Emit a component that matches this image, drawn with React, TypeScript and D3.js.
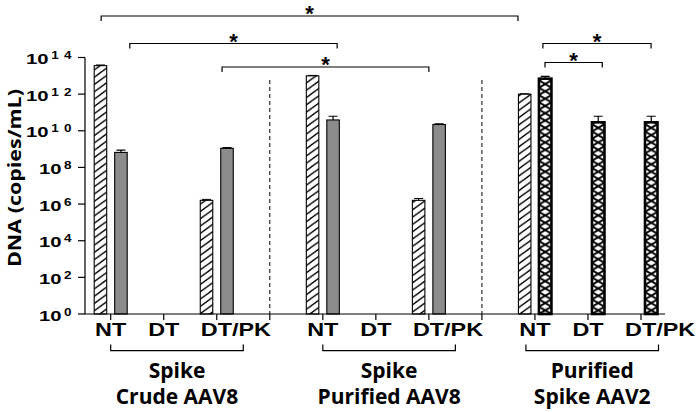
import React, { useEffect, useRef } from 'react';
import * as d3 from 'd3';

// groups of the experiment, each with the same three treatments
const groupNames = [
  ['Spike', 'Crude AAV8'],
  ['Spike', 'Purified AAV8'],
  ['Purified', 'Spike AAV2'],
];
const treatments = ['NT', 'DT', 'DT/PK'];

// copies/mL (0 = no bar)
const hatchedValues = [3.6e13, 0, 1.6e6, 1.0e13, 0, 1.6e6, 1.0e12, 0, 0];
const hatchedUpper = [3.9e13, 0, 1.8e6, 1.05e13, 0, 2.0e6, 1.05e12, 0, 0];
const secondValues = [6.6e8, 0, 1.1e9, 3.9e10, 0, 2.2e10, 7.0e12, 2.9e10, 2.9e10];
const secondUpper = [8.9e8, 0, 1.2e9, 6.2e10, 0, 2.4e10, 9.3e12, 6.2e10, 6.2e10];
// second series is drawn gray in the AAV8 groups, cross-hatched in AAV2
const secondStyle = ['gray', 'gray', 'cross'];

const yTickExponents = [0, 2, 4, 6, 8, 10, 12, 14];

// significance brackets: from/to in slot units, y in px
const brackets = [
  { from: -0.18, to: 7.68, y: 16 },
  { from: 0.36, to: 4.27, y: 43.5 },
  { from: 2.1, to: 6.0, y: 67 },
  { from: 8.15, to: 10.19, y: 43.5 },
  { from: 8.19, to: 9.27, y: 62.5 },
];

const W = 700;
const H = 412;
const AXIS_X = 85;
const AXIS_END = 665;
const BASE_Y = 314;
const TOP_Y = 57.5;

export default function App() {
  const svgRef = useRef<SVGSVGElement>(null);

  useEffect(() => {
    if (!svgRef.current) return;
    const svg = d3.select(svgRef.current);
    svg.selectAll('*').remove();

    // 11 slots: 3 treatments per group + an empty separator slot between groups
    const slot = d3.scaleLinear().domain([0, 10]).range([110.7, 641]);
    const y = d3.scaleLog().domain([1, 1e14]).range([BASE_Y, TOP_Y]);
    const sub = d3.scaleBand().domain(['a', 'b']).range([-16.5, 16.5]).paddingInner(0.39);
    const bw = sub.bandwidth();

    const defs = svg.append('defs');
    const hatch = defs.append('pattern')
      .attr('id', 'hatch')
      .attr('patternUnits', 'userSpaceOnUse')
      .attr('width', 10)
      .attr('height', 7.3);
    hatch.append('rect').attr('width', 10).attr('height', 7.3).attr('fill', '#fff');
    hatch.append('path')
      .attr('d', 'M-1,8.03 L11,-0.73 M-11,8.03 L1,-0.73 M9,8.03 L21,-0.73')
      .attr('stroke', '#000')
      .attr('stroke-width', 1.3);

    const font = '"Liberation Sans", Arial, sans-serif';
    const g = svg.append('g');

    // bars
    const slotOf = (i: number) => Math.floor(i / 3) * 4 + (i % 3);

    hatchedValues.forEach((v, i) => {
      if (!v) return;
      const cx = slot(slotOf(i)) + (sub('a') as number);
      g.append('rect')
        .attr('x', cx)
        .attr('y', y(v))
        .attr('width', bw)
        .attr('height', BASE_Y - y(v))
        .attr('fill', 'url(#hatch)')
        .attr('stroke', '#000')
        .attr('stroke-width', 1.1);
      const up = hatchedUpper[i];
      if (up > v) {
        const mx = cx + bw / 2;
        g.append('path')
          .attr('d', `M${mx},${y(v)}V${y(up)}M${mx - 4.5},${y(up)}H${mx + 4.5}`)
          .attr('stroke', '#000')
          .attr('fill', 'none');
      }
    });

    secondValues.forEach((v, i) => {
      if (!v) return;
      const style = secondStyle[Math.floor(i / 3)];
      const bx = slot(slotOf(i)) + (sub('b') as number);
      let fill = '#8c8c8c';
      if (style === 'cross') {
        const id = `cross-${i}`;
        const p = defs.append('pattern')
          .attr('id', id)
          .attr('patternUnits', 'userSpaceOnUse')
          .attr('x', bx)
          .attr('y', BASE_Y)
          .attr('width', bw)
          .attr('height', 7.3);
        p.append('rect').attr('width', bw).attr('height', 7.3).attr('fill', '#fff');
        p.append('path')
          .attr('d', `M0,0L${bw},7.3M${bw},0L0,7.3`)
          .attr('stroke', '#000')
          .attr('stroke-width', 1.9);
        fill = `url(#${id})`;
      }
      g.append('rect')
        .attr('x', bx)
        .attr('y', y(v))
        .attr('width', bw)
        .attr('height', BASE_Y - y(v))
        .attr('fill', fill)
        .attr('stroke', '#000')
        .attr('stroke-width', style === 'cross' ? 2.6 : 1.1);
      const up = secondUpper[i];
      if (up > v) {
        const mx = bx + bw / 2;
        g.append('path')
          .attr('d', `M${mx},${y(v)}V${y(up)}M${mx - 4.5},${y(up)}H${mx + 4.5}`)
          .attr('stroke', '#000')
          .attr('stroke-width', 1.2)
          .attr('fill', 'none');
      }
    });

    // dashed separators between groups
    [3, 7].forEach((s) => {
      g.append('line')
        .attr('x1', slot(s)).attr('x2', slot(s))
        .attr('y1', 80).attr('y2', BASE_Y)
        .attr('stroke', '#000')
        .attr('stroke-dasharray', '4,3');
    });

    // axes
    g.append('path')
      .attr('d', `M${AXIS_X},${TOP_Y}V${BASE_Y}H${AXIS_END}`)
      .attr('fill', 'none')
      .attr('stroke', '#000')
      .attr('stroke-width', 1.2);

    yTickExponents.forEach((e) => {
      const ty = y(Math.pow(10, e));
      g.append('line')
        .attr('x1', AXIS_X - 7).attr('x2', AXIS_X)
        .attr('y1', ty).attr('y2', ty)
        .attr('stroke', '#000')
        .attr('stroke-width', 1.2);
      const t = g.append('text')
        .attr('transform', `translate(77,${ty + 6.5}) scale(1.35,1)`)
        .attr('text-anchor', 'end')
        .attr('font-family', font)
        .attr('font-weight', 'bold')
        .attr('font-size', 15);
      t.append('tspan').text('10');
      t.append('tspan')
        .attr('dx', 2)
        .attr('dy', -5)
        .attr('font-size', 10)
        .attr('letter-spacing', 4)
        .text(String(e));
    });

    d3.range(11).forEach((s) => {
      g.append('line')
        .attr('x1', slot(s)).attr('x2', slot(s))
        .attr('y1', BASE_Y).attr('y2', BASE_Y + 6)
        .attr('stroke', '#000')
        .attr('stroke-width', 1.2);
    });

    groupNames.forEach((names, gi) => {
      treatments.forEach((tr, ti) => {
        const sx = slot(gi * 4 + ti);
        const isLong = tr.length > 2;
        g.append('text')
          .attr('transform', `translate(${isLong ? sx - 16 : sx},336) scale(1.3,1)`)
          .attr('text-anchor', isLong ? 'start' : 'middle')
          .attr('font-family', font)
          .attr('font-weight', 'bold')
          .attr('font-size', 18)
          .text(tr);
      });
      // group bracket under the labels
      const off = gi === 2 ? -0.17 : 0;
      const x1 = slot(gi * 4 + off);
      const x2 = slot(gi * 4 + 2.5 + off);
      g.append('path')
        .attr('d', `M${x1},344.5V350.7H${x2}V344.5`)
        .attr('fill', 'none')
        .attr('stroke', '#000')
        .attr('stroke-width', 1.2);
      const cx = (x1 + x2) / 2;
      names.forEach((n, li) => {
        g.append('text')
          .attr('x', cx)
          .attr('y', li === 0 ? 378 : 404)
          .attr('text-anchor', 'middle')
          .attr('font-family', '"Open Sans", sans-serif')
          .attr('font-weight', 'bold')
          .attr('font-size', 21)
          .text(n);
      });
    });

    // significance brackets
    brackets.forEach((b) => {
      const x1 = slot(b.from);
      const x2 = slot(b.to);
      g.append('path')
        .attr('d', `M${x1},${b.y + 5}V${b.y}H${x2}V${b.y + 5}`)
        .attr('fill', 'none')
        .attr('stroke', '#000')
        .attr('stroke-width', 1.2);
      g.append('text')
        .attr('x', (x1 + x2) / 2)
        .attr('y', b.y + 5)
        .attr('text-anchor', 'middle')
        .attr('font-family', font)
        .attr('font-weight', 'bold')
        .attr('font-size', 22)
        .text('*');
    });

    // y axis title
    g.append('text')
      .attr('transform', `translate(21,178) rotate(-90)`)
      .attr('text-anchor', 'middle')
      .attr('font-family', '"Open Sans", sans-serif')
      .attr('font-weight', 'bold')
      .attr('font-size', 18)
      .attr('textLength', 178)
      .attr('lengthAdjust', 'spacingAndGlyphs')
      .text('DNA (copies/mL)');
  }, []);

  return (
    <svg
      ref={svgRef}
      width={W}
      height={H}
      style={{ position: 'fixed', left: 0, top: 0, background: '#fff', display: 'block' }}
    />
  );
}
